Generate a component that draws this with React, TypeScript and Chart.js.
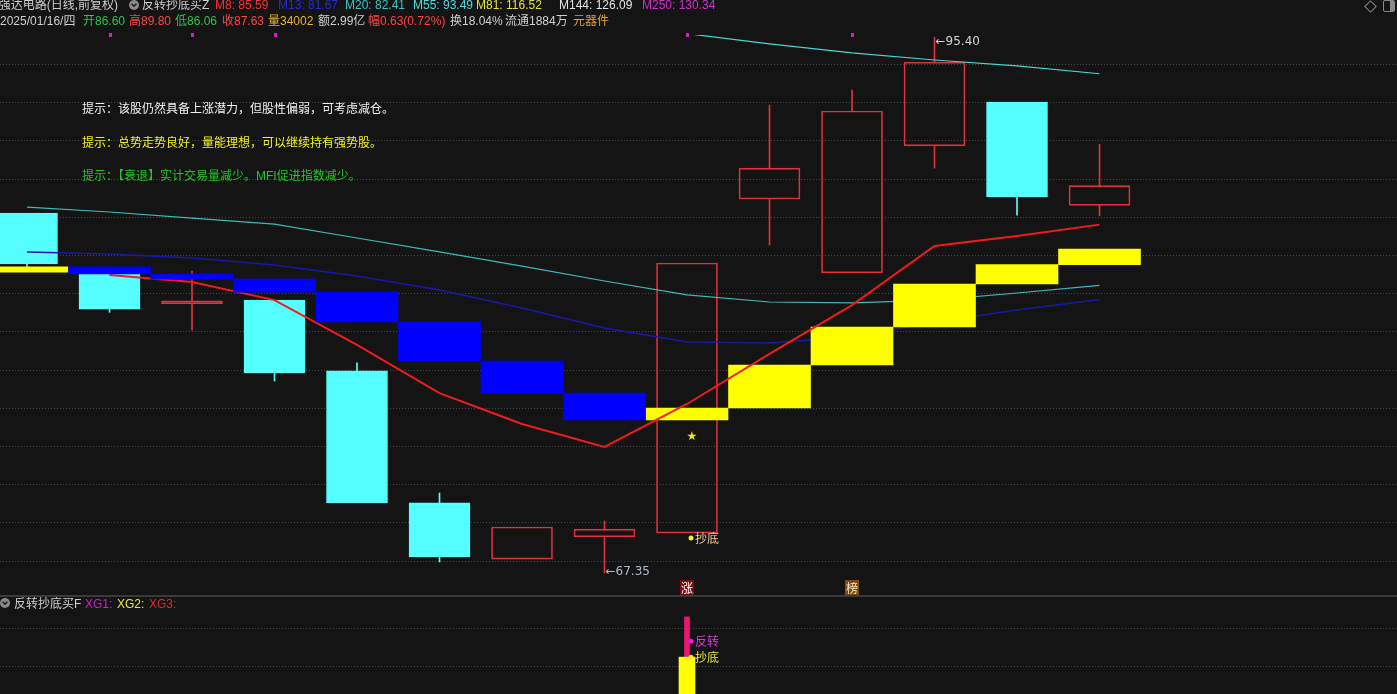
import React, { useEffect, useRef } from 'react';
import { Chart, registerables } from 'chart.js';

Chart.register(...registerables);

// ---------- layout constants ----------
const W = 1397;
const H = 694;
const MAIN_H = 596;
const SUB_TOP = 597;
const SUB_H = 97;
const BG = '#141414';
const FONT = '"Liberation Sans", "Noto Sans CJK SC", sans-serif';
const X_MIN = -0.32727;
const X_MAX = 16.606;
const Y_MIN = 66.147;
const Y_MAX = 95.518;

// ---------- data ----------
const dates = ['12/26', '12/27', '12/30', '12/31', '01/02', '01/03', '01/06', '01/07', '01/08', '01/09', '01/10', '01/13', '01/14', '01/16'];
const opens = [86.2, 83.0, 81.45, 81.64, 77.93, 71.02, 68.08, 69.24, 69.44, 86.93, 83.06, 89.71, 92.01, 86.6];
const highs = [86.2, 83.1, 83.16, 81.64, 78.35, 71.54, 69.76, 70.07, 83.58, 91.85, 92.64, 95.4, 92.01, 89.8];
const lows = [83.4, 81.0, 80.07, 77.4, 71.02, 67.93, 68.08, 67.35, 69.44, 84.52, 83.06, 88.55, 86.09, 86.06];
const closes = [83.53, 81.17, 81.6, 77.82, 71.02, 68.19, 69.76, 69.65, 83.58, 88.55, 91.54, 94.1, 87.04, 87.63];

const m8 = [null, 82.95, 82.59, 81.64, 79.29, 76.77, 75.15, 73.95, 76.2, 78.82, 81.38, 84.47, 84.99, 85.59];
const m13 = [84.16, 84.05, 83.84, 83.48, 82.9, 82.17, 81.23, 80.18, 79.45, 79.39, 79.71, 80.49, 81.12, 81.67];
const m20 = [86.51, 86.25, 85.93, 85.62, 84.89, 84.16, 83.42, 82.64, 81.91, 81.54, 81.49, 81.64, 82.01, 82.41];
const m55 = [99.6, 99.1, 98.6, 98.1, 97.6, 97.1, 96.6, 96.1, 95.59, 95.05, 94.58, 94.21, 93.9, 93.49];

// step band: value before day 0, then one value per day
const trendBand = [83.1, 83.38, 83.01, 82.74, 82.06, 80.49, 78.45, 76.77, 75.36, 75.99, 78.24, 80.23, 82.48, 83.5, 84.31];

const priceTicks = [68, 70, 72, 74, 76, 78, 80, 82, 84, 86, 88, 90, 92, 94];
const topMarkIdx = [1, 2, 3, 8, 10];
const badgeIdx = [8, 10];
const badgeText = ['涨', '榜'];
const badgeBg = ['#7a0d0d', '#7a4a12'];
const badgeFg = ['#ffffff', '#f6e6c2'];
const starIdx = 8;
const starPrice = 74.47;
const buyIdx = 8;
const buyPrice = 69.18;

// sub panel (反转抄底买F)
const xg1 = [0, 0, 0, 0, 0, 0, 0, 0, 2.03, 0, 0, 0, 0, 0];
const xg2 = [0, 0, 0, 0, 0, 0, 0, 0, 0.97, 0, 0, 0, 0, 0];
const xg1Label = 1.39;
const subTicks = [0.737, 1.737];
const SUB_MAX = 2.158;

const hints = [
  { text: '提示：该股仍然具备上涨潜力，但股性偏弱，可考虑减仓。', color: '#f0f0f0', y: 109 },
  { text: '提示：总势走势良好，量能理想，可以继续持有强势股。', color: '#f2f21e', y: 143 },
  { text: '提示：【衰退】实计交易量减少。MFI促进指数减少。', color: '#22c722', y: 176 },
];

const header1 = [
  { text: '反转抄底买Z', x: 142, color: '#cfcfcf' },
  { text: 'M8: ' + (m8[13] as number).toFixed(2), x: 215, color: '#ff2e2e' },
  { text: 'M13: ' + m13[13].toFixed(2), x: 278, color: '#2a2ad0' },
  { text: 'M20: ' + m20[13].toFixed(2), x: 345, color: '#3ec4c4' },
  { text: 'M55: ' + m55[13].toFixed(2), x: 413, color: '#52dcdc' },
  { text: 'M81: 116.52', x: 476, color: '#e2e23a' },
  { text: 'M144: 126.09', x: 559, color: '#e4e4e4' },
  { text: 'M250: 130.34', x: 642, color: '#d22ed2' },
];

const header2 = [
  { text: '2025/01/16/四', x: 0, color: '#cfcfcf' },
  { text: '开' + opens[13].toFixed(2), x: 83, color: '#2fc24a' },
  { text: '高' + highs[13].toFixed(2), x: 129, color: '#ff4646' },
  { text: '低' + lows[13].toFixed(2), x: 175, color: '#2fc24a' },
  { text: '收' + closes[13].toFixed(2), x: 222, color: '#ff4646' },
  { text: '量34002', x: 268, color: '#e8b232' },
  { text: '额2.99亿', x: 318, color: '#cfcfcf' },
  { text: '幅0.63(0.72%)', x: 368, color: '#ff4646' },
  { text: '换18.04%', x: 450, color: '#cfcfcf' },
  { text: '流通1884万', x: 505, color: '#cfcfcf' },
  { text: '元器件', x: 573, color: '#e8a030' },
];

const subHeader = [
  { text: '反转抄底买F', x: 14, color: '#cfcfcf' },
  { text: 'XG1:', x: 85, color: '#d21ed2' },
  { text: 'XG2:', x: 117, color: '#e8e83a' },
  { text: 'XG3:', x: 149, color: '#e02a2a' },
];

// ---------- colours ----------
const CYAN = '#55ffff';
const RED = '#e0323c';

function gridPlugin(ticks: number[]) {
  return {
    id: 'dotGrid',
    beforeDatasetsDraw(chart: any) {
      const { ctx, chartArea, scales } = chart;
      ctx.save();
      ctx.strokeStyle = '#4a4a4a';
      ctx.lineWidth = 1;
      ctx.setLineDash([1, 2]);
      ticks.forEach((t) => {
        const y = Math.round(scales.y.getPixelForValue(t)) + 0.5;
        ctx.beginPath();
        ctx.moveTo(chartArea.left, y);
        ctx.lineTo(chartArea.right, y);
        ctx.stroke();
      });
      ctx.restore();
    },
  };
}

const mainMarks = {
  id: 'mainMarks',
  afterDatasetsDraw(chart: any) {
    const { ctx, chartArea, scales } = chart;
    const x = scales.x;
    const y = scales.y;
    ctx.save();
    ctx.textBaseline = 'middle';
    // top markers
    ctx.fillStyle = '#d21ed2';
    topMarkIdx.forEach((i) => {
      ctx.fillRect(Math.round(x.getPixelForValue(i)) - 1, chartArea.top - 2, 3, 4);
    });
    // star
    ctx.font = '12px "DejaVu Sans", sans-serif';
    ctx.fillStyle = '#f4e41a';
    ctx.textAlign = 'center';
    ctx.fillText('★', x.getPixelForValue(starIdx) + 5, y.getPixelForValue(starPrice));
    // buy label
    const bx = x.getPixelForValue(buyIdx);
    const by = y.getPixelForValue(buyPrice);
    ctx.beginPath();
    ctx.arc(bx + 4, by, 2.5, 0, Math.PI * 2);
    ctx.fillStyle = '#f4f01a';
    ctx.fill();
    ctx.textAlign = 'left';
    ctx.font = '12px "Noto Sans CJK SC", sans-serif';
    ctx.fillStyle = '#f4cc90';
    ctx.fillText('抄底', bx + 8, by);
    // low / high labels
    let lowIdx = 0;
    let highIdx = 0;
    lows.forEach((v, i) => { if (v < lows[lowIdx]) lowIdx = i; });
    highs.forEach((v, i) => { if (v > highs[highIdx]) highIdx = i; });
    ctx.font = '12px "DejaVu Sans", sans-serif';
    ctx.fillStyle = '#aebccb';
    ctx.fillText('←' + lows[lowIdx].toFixed(2), x.getPixelForValue(lowIdx) + 1, y.getPixelForValue(lows[lowIdx]) - 1);
    ctx.fillStyle = '#d4d4d4';
    ctx.fillText('←' + highs[highIdx].toFixed(2), x.getPixelForValue(highIdx) + 1, y.getPixelForValue(highs[highIdx]) + 5);
    // badges
    ctx.font = '12px "Noto Sans CJK SC", sans-serif';
    ctx.textAlign = 'center';
    badgeIdx.forEach((i, k) => {
      const px = Math.round(x.getPixelForValue(i));
      ctx.fillStyle = badgeBg[k];
      ctx.fillRect(px - 7, chartArea.bottom - 16, 14, 15);
      ctx.fillStyle = badgeFg[k];
      ctx.fillText(badgeText[k], px, chartArea.bottom - 8);
    });
    ctx.restore();
  },
};

const subMarks = {
  id: 'subMarks',
  afterDatasetsDraw(chart: any) {
    const { ctx, scales } = chart;
    const x = scales.x;
    const y = scales.y;
    ctx.save();
    ctx.textBaseline = 'middle';
    ctx.textAlign = 'left';
    ctx.font = '12px "Noto Sans CJK SC", sans-serif';
    xg1.forEach((v, i) => {
      if (!v) return;
      const px = x.getPixelForValue(i);
      const py = y.getPixelForValue(xg1Label);
      ctx.beginPath();
      ctx.arc(px + 4, py, 2.5, 0, Math.PI * 2);
      ctx.fillStyle = '#e020e0';
      ctx.fill();
      ctx.fillStyle = '#d83ad8';
      ctx.fillText('反转', px + 8, py);
    });
    xg2.forEach((v, i) => {
      if (!v) return;
      const px = x.getPixelForValue(i);
      const py = y.getPixelForValue(v);
      ctx.beginPath();
      ctx.arc(px + 4, py, 2.5, 0, Math.PI * 2);
      ctx.fillStyle = '#f0f01a';
      ctx.fill();
      ctx.fillStyle = '#e6e23a';
      ctx.fillText('抄底', px + 8, py);
    });
    ctx.restore();
  },
};

function ChevronIcon({ x, y }: { x: number; y: number }) {
  return (
    <svg width={10} height={10} style={{ position: 'absolute', left: x, top: y }}>
      <circle cx={5} cy={5} r={5} fill="#8a8a8a" />
      <polyline points="2.6,3.8 5,6.2 7.4,3.8" fill="none" stroke="#1a1a1a" strokeWidth={1.4} />
    </svg>
  );
}

export default function App() {
  const mainRef = useRef<HTMLCanvasElement>(null);
  const subRef = useRef<HTMLCanvasElement>(null);

  useEffect(() => {
    document.body.style.margin = '0';
    document.body.style.background = BG;
    document.body.style.overflow = 'hidden';

    const idx = dates.map((_, i) => i);
    const up = idx.map((i) => closes[i] >= opens[i]);
    const bodyData = idx.map((i) => ({ x: i, y: [opens[i], closes[i]] }));
    const upperWick = idx
      .filter((i) => highs[i] > Math.max(opens[i], closes[i]))
      .map((i) => ({ x: i, y: [Math.max(opens[i], closes[i]), highs[i]], c: up[i] ? RED : CYAN }));
    const lowerWick = idx
      .filter((i) => lows[i] < Math.min(opens[i], closes[i]))
      .map((i) => ({ x: i, y: [lows[i], Math.min(opens[i], closes[i])], c: up[i] ? RED : CYAN }));
    const band = idx.map((i) => ({ x: i, y: [trendBand[i], trendBand[i + 1]], down: trendBand[i + 1] < trendBand[i] }));
    const line = (arr: (number | null)[]) => arr.map((v, i) => ({ x: i, y: v }));

    const main = new Chart(mainRef.current as HTMLCanvasElement, {
      type: 'bar',
      data: {
        datasets: [
          {
            type: 'bar',
            data: band.filter((b) => b.down).map((b) => ({ x: b.x, y: b.y })) as any,
            backgroundColor: '#0000ff',
            borderWidth: 0,
            barThickness: 82,
            order: 1,
          },
          {
            type: 'line',
            data: line(m8),
            borderColor: '#f01c1c',
            borderWidth: 2,
            pointRadius: 0,
            order: 2,
          },
          {
            type: 'bar',
            data: band.filter((b) => !b.down).map((b) => ({ x: b.x, y: b.y })) as any,
            backgroundColor: '#ffff00',
            borderWidth: 0,
            barThickness: 82,
            order: 3,
          },
          { type: 'line', data: line(m55), borderColor: '#48d6d6', borderWidth: 1.2, pointRadius: 0, order: 4 },
          { type: 'line', data: line(m20), borderColor: '#3cbaba', borderWidth: 1.2, pointRadius: 0, order: 5 },
          { type: 'line', data: line(m13), borderColor: '#1a1aa6', borderWidth: 1.5, pointRadius: 0, order: 6 },
          {
            type: 'bar',
            data: bodyData as any,
            backgroundColor: idx.map((i) => (up[i] ? 'rgba(0,0,0,0)' : CYAN)),
            borderColor: idx.map((i) => (up[i] ? RED : CYAN)),
            borderWidth: 1,
            borderSkipped: false,
            barThickness: 61,
            order: 7,
          },
          {
            type: 'bar',
            data: upperWick.map((w) => ({ x: w.x, y: w.y })) as any,
            backgroundColor: upperWick.map((w) => w.c),
            borderWidth: 0,
            barThickness: 1,
            order: 8,
          },
          {
            type: 'bar',
            data: lowerWick.map((w) => ({ x: w.x, y: w.y })) as any,
            backgroundColor: lowerWick.map((w) => w.c),
            borderWidth: 0,
            barThickness: 1,
            order: 9,
          },
        ] as any,
      },
      options: {
        responsive: false,
        animation: false,
        devicePixelRatio: 1,
        events: [],
        layout: { padding: { top: 35, left: 0, right: 0, bottom: 0 } },
        plugins: { legend: { display: false }, tooltip: { enabled: false } },
        datasets: { bar: { grouped: false } } as any,
        scales: {
          x: { type: 'linear', min: X_MIN, max: X_MAX, display: false, offset: false },
          y: { type: 'linear', min: Y_MIN, max: Y_MAX, display: false },
        },
      },
      plugins: [gridPlugin(priceTicks), mainMarks],
    });

    const sub = new Chart(subRef.current as HTMLCanvasElement, {
      type: 'bar',
      data: {
        datasets: [
          {
            data: line(xg2).filter((p) => (p.y as number) > 0) as any,
            backgroundColor: '#ffff00',
            borderWidth: 0,
            barThickness: 16,
            order: 1,
          },
          {
            data: line(xg1).filter((p) => (p.y as number) > 0) as any,
            backgroundColor: '#ee1470',
            borderWidth: 0,
            barThickness: 5,
            order: 2,
          },
        ],
      },
      options: {
        responsive: false,
        animation: false,
        devicePixelRatio: 1,
        events: [],
        layout: { padding: { top: 15, left: 0, right: 0, bottom: 0 } },
        plugins: { legend: { display: false }, tooltip: { enabled: false } },
        datasets: { bar: { grouped: false } } as any,
        scales: {
          x: { type: 'linear', min: X_MIN, max: X_MAX, display: false, offset: false },
          y: { type: 'linear', min: 0, max: SUB_MAX, display: false },
        },
      },
      plugins: [gridPlugin(subTicks), subMarks],
    });

    return () => {
      main.destroy();
      sub.destroy();
    };
  }, []);

  const txt = (t: { text: string; x: number; color: string }, top: number, key: string) => (
    <div
      key={key}
      style={{ position: 'absolute', left: t.x, top, color: t.color, fontSize: 12, lineHeight: '16px', whiteSpace: 'nowrap' }}
    >
      {t.text}
    </div>
  );

  return (
    <div
      style={{ position: 'fixed', left: 0, top: 0, width: W, height: H, background: BG, overflow: 'hidden', fontFamily: FONT }}
    >
      <canvas ref={mainRef} width={W} height={MAIN_H} style={{ position: 'absolute', left: 0, top: 0, display: 'block' }} />
      <div style={{ position: 'absolute', left: 0, top: 595, width: W, height: 2, background: '#3a3a3a' }} />
      <canvas ref={subRef} width={W} height={SUB_H} style={{ position: 'absolute', left: 0, top: SUB_TOP, display: 'block' }} />

      {/* header line 1 */}
      <div style={{ position: 'absolute', right: W - 118, top: -3, color: '#cfcfcf', fontSize: 12, lineHeight: '16px', whiteSpace: 'nowrap' }}>
        强达电路(日线,前复权)
      </div>
      <ChevronIcon x={129} y={0} />
      {header1.map((t, i) => txt(t, -3, 'h1' + i))}
      {header2.map((t, i) => txt(t, 13, 'h2' + i))}

      {/* right top icons */}
      <div style={{ position: 'absolute', left: 1366, top: 2, width: 7, height: 7, border: '1px solid #8a8a8a', transform: 'rotate(45deg)' }} />
      <div style={{ position: 'absolute', left: 1383, top: 0, width: 10, height: 10, border: '1px solid #8a8a8a', borderRadius: 2, overflow: 'hidden' }}>
        <div style={{ position: 'absolute', right: 0, top: 0, width: 4, height: 10, background: '#8a8a8a' }} />
      </div>

      {/* hints */}
      {hints.map((h, i) => (
        <div
          key={'hint' + i}
          style={{ position: 'absolute', left: 82, top: h.y - 8, color: h.color, fontSize: 12, lineHeight: '16px', whiteSpace: 'nowrap' }}
        >
          {h.text}
        </div>
      ))}

      {/* sub panel header */}
      <ChevronIcon x={0} y={598} />
      {subHeader.map((t, i) => txt(t, 596, 'sh' + i))}
    </div>
  );
}
